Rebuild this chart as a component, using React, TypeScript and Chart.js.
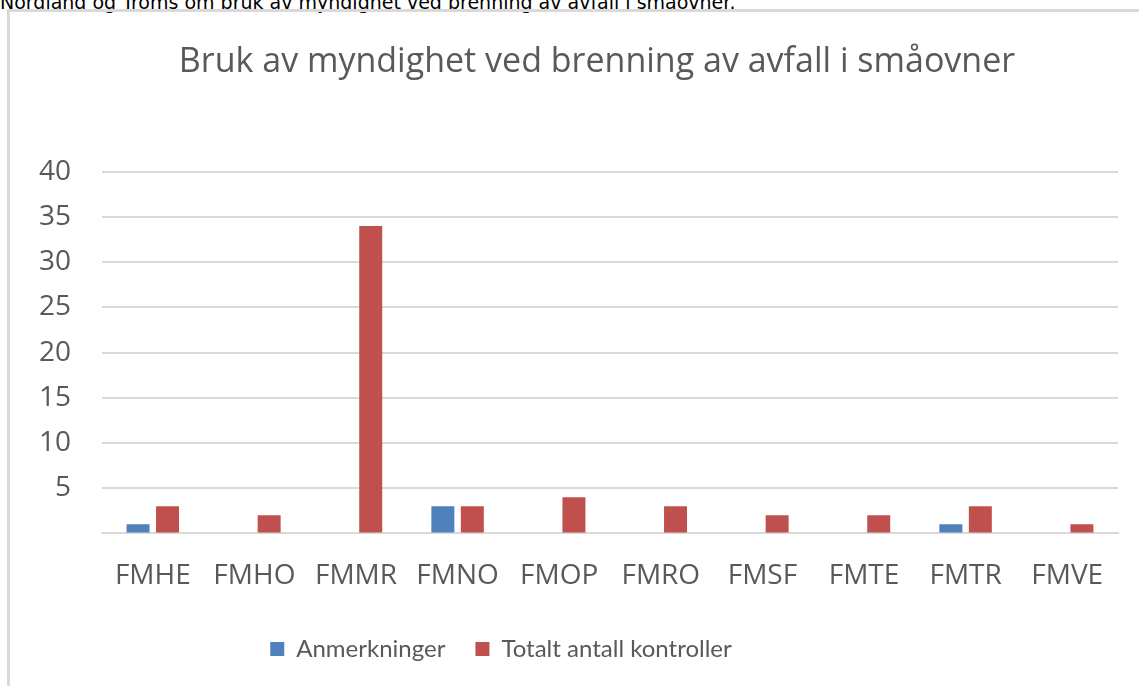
import React, { useEffect, useRef } from "react";
import { Chart, registerables } from "chart.js";

Chart.register(...registerables);

const categories = ["FMHE", "FMHO", "FMMR", "FMNO", "FMOP", "FMRO", "FMSF", "FMTE", "FMTR", "FMVE"];
const anmerkninger = [1, 0, 0, 3, 0, 0, 0, 0, 1, 0];
const totaltAntallKontroller = [3, 2, 34, 3, 4, 3, 2, 2, 3, 1];
const yMin = 0;
const yMax = 40;
const yStep = 5;
const titleText = "Bruk av myndighet ved brenning av avfall i småovner";
const seriesNames = ["Anmerkninger", "Totalt antall kontroller"];
const topText = "Nordland og Troms om bruk av myndighet ved brenning av avfall i småovner.";

const boxShift = {
  id: "boxShift",
  afterLayout(chart: any) {
    const lg = chart.legend;
    if (lg) {
      lg.left -= 58;
      lg.right -= 58;
      lg.top -= 12;
      lg.bottom -= 12;
    }
    const tt = chart.titleBlock;
    if (tt) {
      tt.left += 38;
      tt.right += 38;
    }
  },
};

export default function App() {
  const canvasRef = useRef<HTMLCanvasElement | null>(null);

  useEffect(() => {
    document.body.style.margin = "0";
    document.body.style.overflow = "hidden";
    document.body.style.background = "#ffffff";
    const canvas = canvasRef.current;
    if (!canvas) return;
    const chart = new Chart(canvas, {
      type: "bar",
      data: {
        labels: categories,
        datasets: [
          {
            label: seriesNames[0],
            data: anmerkninger,
            backgroundColor: "#4f81bd",
            borderWidth: 0,
          },
          {
            label: seriesNames[1],
            data: totaltAntallKontroller,
            backgroundColor: "#c0504d",
            borderWidth: 0,
          },
        ],
      },
      plugins: [boxShift],
      options: {
        responsive: false,
        animation: false,
        devicePixelRatio: 1,
        datasets: {
          bar: {
            categoryPercentage: 0.58,
            barPercentage: 0.78,
          },
        },
        layout: {
          padding: { left: 0, right: 21, top: 0, bottom: 3 },
        },
        plugins: {
          tooltip: { enabled: false },
          title: {
            display: true,
            text: titleText,
            color: "#595959",
            font: { family: "'Open Sans'", size: 34, weight: "normal", lineHeight: 1.2 },
            padding: { top: 42, bottom: 89 },
          },
          legend: {
            display: true,
            position: "bottom",
            labels: {
              boxWidth: 14,
              boxHeight: 14,
              padding: 30,
              color: "#595959",
              font: { family: "Lato", size: 24 },
            },
          },
        },
        scales: {
          x: {
            grid: { display: false, drawTicks: false },
            border: { display: true, color: "#d9d9d9", width: 2 },
            ticks: {
              color: "#595959",
              padding: 26,
              font: { family: "'Open Sans'", size: 28 },
            },
          },
          y: {
            min: yMin,
            max: yMax,
            afterFit: (scale: any) => {
              scale.width = 102;
            },
            grid: { color: "#d9d9d9", lineWidth: 2, drawTicks: false },
            border: { display: false },
            ticks: {
              stepSize: yStep,
              color: "#595959",
              padding: 31,
              font: { family: "'Open Sans'", size: 28 },
              callback: (v: any) => (Number(v) === 0 ? "" : String(v)),
            },
          },
        },
      },
    });
    return () => chart.destroy();
  }, []);

  return (
    <div style={{ position: "fixed", left: 0, top: 0, width: 1139, height: 686, overflow: "hidden", background: "#fff" }}>
      <div
        style={{
          position: "absolute",
          left: 0,
          top: -9,
          whiteSpace: "nowrap",
          fontFamily: "'DejaVu Sans', sans-serif",
          fontSize: 19,
          lineHeight: "22px",
          color: "#000",
        }}
      >
        {topText}
      </div>
      <div
        style={{
          position: "absolute",
          left: 7,
          top: 9,
          width: 2000,
          height: 2000,
          borderLeft: "3px solid #d9d9d9",
          borderTop: "3px solid #d9d9d9",
        }}
      />
      <canvas ref={canvasRef} width={1139} height={686} style={{ position: "absolute", left: 0, top: 0 }} />
    </div>
  );
}
